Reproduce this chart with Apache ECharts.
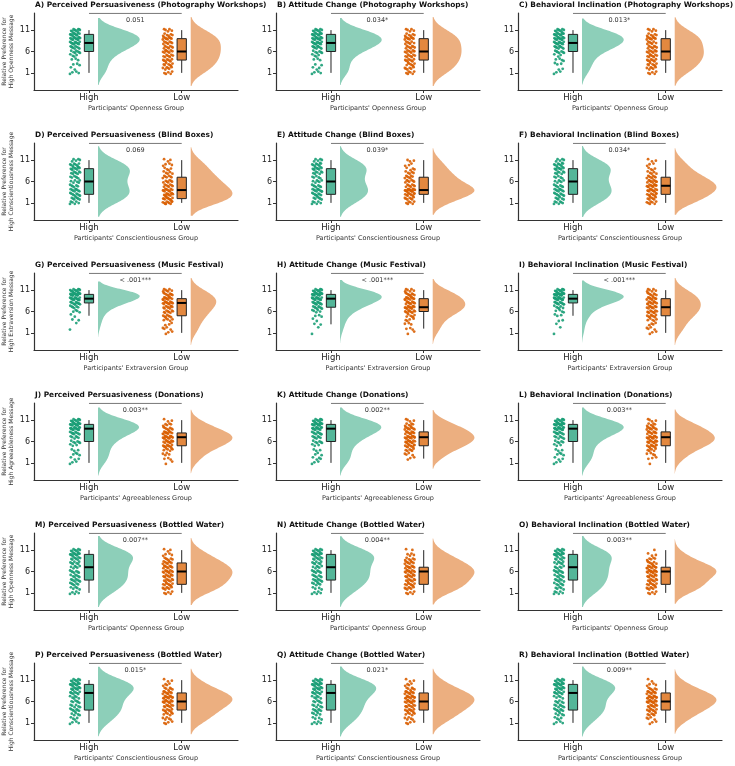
<!DOCTYPE html>
<html>
<head>
<meta charset="utf-8">
<script src="https://cdn.jsdelivr.net/npm/echarts@6/dist/echarts.min.js"></script>
<style>
  html, body { margin: 0; background: #fff; }
  #chart { width: 735px; height: 766px; }
</style>
</head>
<body>
<div id="chart"></div>
<script>
// rating levels on the relative preference scale
var levels = [1, 2, 3, 4, 5, 6, 7, 8, 9, 10, 11];
var yTicks = [1, 6, 11];
var groupNames = ['High', 'Low'];

// participants per level (1..11), high group / low group
var aHigh = [4, 2, 3, 3, 4, 7, 9, 13, 14, 12, 10];
var aLow  = [5, 6, 7, 8, 8, 9, 8, 8, 10, 6, 5];
var bHigh = [4, 3, 2, 3, 4, 6, 10, 13, 15, 12, 9];
var bLow  = [6, 6, 7, 8, 8, 9, 8, 7, 10, 6, 5];
var cHigh = [3, 2, 3, 4, 3, 7, 10, 13, 15, 12, 9];
var cLow  = [5, 6, 7, 8, 9, 9, 8, 7, 10, 6, 5];
var dHigh = [6, 7, 9, 9, 6, 6, 6, 8, 10, 8, 5];
var dLow  = [10, 11, 11, 11, 8, 7, 7, 5, 4, 4, 3];
var eHigh = [6, 6, 9, 10, 7, 6, 5, 7, 10, 9, 5];
var eLow  = [6, 7, 10, 19, 8, 7, 7, 5, 4, 3, 3];
var fHigh = [7, 6, 9, 9, 7, 6, 5, 7, 10, 9, 5];
var fLow  = [7, 7, 9, 12, 12, 10, 8, 5, 4, 3, 3];
var gHigh = [0, 1, 1, 2, 2, 4, 6, 12, 18, 22, 12];
var gLow  = [3, 4, 3, 5, 7, 8, 9, 13, 12, 9, 7];
var hHigh = [1, 1, 2, 2, 3, 5, 8, 12, 16, 19, 11];
var hLow  = [2, 3, 3, 4, 6, 10, 14, 11, 12, 9, 6];
var iHigh = [1, 1, 1, 2, 3, 4, 6, 12, 18, 21, 11];
var iLow  = [3, 4, 4, 5, 8, 10, 11, 10, 11, 8, 6];
var jHigh = [3, 3, 4, 3, 3, 6, 6, 9, 16, 17, 10];
var jLow  = [2, 3, 4, 6, 10, 12, 15, 12, 8, 5, 3];
var kHigh = [3, 4, 3, 3, 3, 6, 7, 9, 15, 17, 10];
var kLow  = [0, 3, 4, 6, 10, 12, 14, 11, 10, 6, 4];
var lHigh = [3, 3, 4, 3, 3, 5, 7, 9, 16, 17, 10];
var lLow  = [1, 3, 4, 6, 10, 12, 14, 10, 10, 6, 4];
var mHigh = [5, 5, 6, 8, 7, 7, 6, 7, 8, 13, 8];
var mLow  = [5, 7, 9, 8, 10, 11, 10, 8, 6, 4, 3];
var nHigh = [5, 4, 6, 8, 7, 8, 6, 7, 8, 13, 8];
var nLow  = [5, 7, 9, 8, 10, 12, 10, 8, 6, 4, 2];
var oHigh = [6, 5, 6, 7, 7, 8, 6, 7, 7, 13, 8];
var oLow  = [5, 7, 9, 8, 10, 14, 12, 7, 5, 3, 1];
var pHigh = [4, 4, 5, 8, 6, 6, 6, 9, 11, 13, 8];
var pLow  = [4, 5, 6, 8, 9, 12, 13, 10, 6, 4, 3];
var qHigh = [5, 4, 5, 7, 6, 6, 6, 9, 11, 13, 8];
var qLow  = [4, 5, 6, 9, 9, 12, 12, 10, 6, 4, 3];
var rHigh = [4, 4, 5, 8, 7, 6, 5, 9, 11, 13, 8];
var rLow  = [3, 4, 6, 9, 10, 13, 13, 10, 6, 4, 2];

var panelTitles = [
  'A) Perceived Persuasiveness (Photography Workshops)', 'B) Attitude Change (Photography Workshops)', 'C) Behavioral Inclination (Photography Workshops)',
  'D) Perceived Persuasiveness (Blind Boxes)', 'E) Attitude Change (Blind Boxes)', 'F) Behavioral Inclination (Blind Boxes)',
  'G) Perceived Persuasiveness (Music Festival)', 'H) Attitude Change (Music Festival)', 'I) Behavioral Inclination (Music Festival)',
  'J) Perceived Persuasiveness (Donations)', 'K) Attitude Change (Donations)', 'L) Behavioral Inclination (Donations)',
  'M) Perceived Persuasiveness (Bottled Water)', 'N) Attitude Change (Bottled Water)', 'O) Behavioral Inclination (Bottled Water)',
  'P) Perceived Persuasiveness (Bottled Water)', 'Q) Attitude Change (Bottled Water)', 'R) Behavioral Inclination (Bottled Water)'
];
var pLabels = [
  '0.051', '0.034*', '0.013*',
  '0.069', '0.039*', '0.034*',
  '< .001***', '< .001***', '< .001***',
  '0.003**', '0.002**', '0.003**',
  '0.007**', '0.004**', '0.003**',
  '0.015*', '0.021*', '0.009**'
];
var rowTraits = ['Openness', 'Conscientiousness', 'Extraversion', 'Agreeableness', 'Openness', 'Conscientiousness'];

var panelData = [
  [aHigh, aLow], [bHigh, bLow], [cHigh, cLow],
  [dHigh, dLow], [eHigh, eLow], [fHigh, fLow],
  [gHigh, gLow], [hHigh, hLow], [iHigh, iLow],
  [jHigh, jLow], [kHigh, kLow], [lHigh, lLow],
  [mHigh, mLow], [nHigh, nLow], [oHigh, oLow],
  [pHigh, pLow], [qHigh, qLow], [rHigh, rLow]
];

// look
var pointColors = ['#1b9e77', '#d95f02'];
var boxColors = ['#54b699', '#e3883f'];
var violinColors = ['#8dcfb9', '#ecaf80'];
var FONT = 'DejaVu Sans';
var left0 = 34, colStep = 242, top0 = 13, rowStep = 130, gw = 204, gh = 77;
var xMin = -0.593, xMax = 1.607, yMin = -3, yMax = 15;

function expand(counts) {
  var vals = [];
  counts.forEach(function (c, k) { for (var i = 0; i < c; i++) vals.push(levels[k]); });
  return vals;
}
function quantile(sorted, q) {
  var pos = (sorted.length - 1) * q, lo = Math.floor(pos), hi = Math.ceil(pos);
  return sorted[lo] + (sorted[hi] - sorted[lo]) * (pos - lo);
}
function boxStats(vals) {
  var q1 = quantile(vals, 0.25), med = quantile(vals, 0.5), q3 = quantile(vals, 0.75);
  var iqr = q3 - q1;
  var lo = vals.filter(function (v) { return v >= q1 - 1.5 * iqr; })[0];
  var inside = vals.filter(function (v) { return v <= q3 + 1.5 * iqr; });
  return [lo, q1, med, q3, inside[inside.length - 1]];
}
function kde(vals) {
  var n = vals.length, mean = vals.reduce(function (a, b) { return a + b; }, 0) / n;
  var sd = Math.sqrt(vals.reduce(function (a, v) { return a + (v - mean) * (v - mean); }, 0) / (n - 1));
  var bw = 1.25 * sd * Math.pow(n, -0.2);
  var y0 = vals[0] - 2 * bw, y1 = vals[n - 1] + 2 * bw, pts = [];
  for (var s = 0; s <= 120; s++) {
    var y = y0 + (y1 - y0) * s / 120, d = 0;
    vals.forEach(function (v) { d += Math.exp(-0.5 * Math.pow((y - v) / bw, 2)); });
    pts.push([y, d / (n * bw * Math.sqrt(2 * Math.PI))]);
  }
  return pts;
}
function frac(v) { return v - Math.floor(v); }

var grids = [], xAxes = [], yAxes = [], series = [], graphics = [];

panelData.forEach(function (pair, p) {
  var row = Math.floor(p / 3), col = p % 3;
  var gl = left0 + col * colStep, gt = top0 + row * rowStep;
  grids.push({ left: gl, top: gt, width: gw, height: gh });
  xAxes.push({
    gridIndex: p, type: 'value', min: xMin, max: xMax,
    name: "Participants' " + rowTraits[row] + ' Group', nameLocation: 'middle', nameGap: 15,
    nameTextStyle: { fontFamily: FONT, fontSize: 6.5, color: '#333' },
    axisLine: { onZero: false, lineStyle: { color: '#333', width: 1.2 } },
    axisTick: { customValues: [0, 1], length: 3, lineStyle: { color: '#333' } },
    axisLabel: { customValues: [0, 1], margin: 3, fontFamily: FONT, fontSize: 8.5, color: '#222',
      formatter: function (v) { return groupNames[Math.round(v)]; } },
    splitLine: { show: false }
  });
  yAxes.push({
    gridIndex: p, type: 'value', min: yMin, max: yMax,
    name: col === 0 ? 'Relative Preference for\nHigh ' + rowTraits[row] + ' Message' : '',
    nameLocation: 'middle', nameGap: 19, nameRotate: 90,
    nameTextStyle: { fontFamily: FONT, fontSize: 6, color: '#333', lineHeight: 7 },
    axisLine: { show: true, onZero: false, lineStyle: { color: '#333', width: 1.2 } },
    axisTick: { show: true, customValues: yTicks, length: 3, lineStyle: { color: '#333' } },
    axisLabel: { customValues: yTicks, margin: 4, fontFamily: FONT, fontSize: 8, color: '#222' },
    splitLine: { show: false }
  });
  graphics.push({
    type: 'text', x: gl + 1, y: gt - 8,
    style: { text: panelTitles[p], font: 'bold 7.4px "' + FONT + '"', fill: '#111', verticalAlign: 'middle', textAlign: 'left' }
  });

  var curves = [], stats = [], peak = 0;
  pair.forEach(function (counts, g) {
    var vals = expand(counts);
    stats.push([g].concat(boxStats(vals)));
    var c = kde(vals);
    c.forEach(function (pt) { peak = Math.max(peak, pt[1]); });
    curves.push(c);
    // jittered strip
    series.push({
      type: 'scatter', xAxisIndex: p, yAxisIndex: p, symbolSize: 2.8, silent: true,
      itemStyle: { color: pointColors[g], opacity: 0.9 },
      data: vals.map(function (v, i) {
        return [g - 0.15 + (frac(i * 0.618034 + 0.31 * g) - 0.5) * 0.11,
                v + (frac(i * 0.754878 + 0.17) - 0.5) * 0.7];
      })
    });
  });

  // half violins
  series.push({
    type: 'custom', xAxisIndex: p, yAxisIndex: p, silent: true,
    data: [[0, 0], [1, 0]],
    renderItem: function (params, api) {
      var g = params.dataIndex, x0 = g + 0.097, sc = 0.45 / peak;
      var pts = curves[g].map(function (pt) { return api.coord([x0 + pt[1] * sc, pt[0]]); });
      var back = curves[g].slice().reverse().map(function (pt) { return api.coord([x0, pt[0]]); });
      return { type: 'polygon', shape: { points: pts.concat(back) }, style: { fill: violinColors[g], stroke: null } };
    }
  });

  // boxes
  series.push({
    type: 'custom', xAxisIndex: p, yAxisIndex: p, silent: true,
    data: stats,
    renderItem: function (params, api) {
      var g = api.value(0), lo = api.value(1), q1 = api.value(2), md = api.value(3), q3 = api.value(4), hi = api.value(5);
      var w = 0.05;
      var a = api.coord([g - w, q3]), b = api.coord([g + w, q1]);
      var top = api.coord([g, hi]), bot = api.coord([g, lo]), m1 = api.coord([g - w, md]), m2 = api.coord([g + w, md]);
      var q3p = api.coord([g, q3]), q1p = api.coord([g, q1]);
      var ln = { stroke: '#222', lineWidth: 1 };
      return { type: 'group', children: [
        { type: 'line', shape: { x1: top[0], y1: top[1], x2: q3p[0], y2: q3p[1] }, style: ln },
        { type: 'line', shape: { x1: q1p[0], y1: q1p[1], x2: bot[0], y2: bot[1] }, style: ln },
        { type: 'rect', shape: { x: a[0], y: a[1], width: b[0] - a[0], height: b[1] - a[1] },
          style: { fill: boxColors[g], stroke: '#222', lineWidth: 1 } },
        { type: 'line', shape: { x1: m1[0], y1: m1[1], x2: m2[0], y2: m2[1] }, style: { stroke: '#000', lineWidth: 2 } }
      ] };
    }
  });

  // significance bracket
  series.push({
    type: 'custom', xAxisIndex: p, yAxisIndex: p, silent: true,
    data: [[0, 14.9]],
    renderItem: function (params, api) {
      var s = api.coord([0, 14.9]), e = api.coord([1, 14.9]), t = api.coord([0.5, 13.4]);
      return { type: 'group', children: [
        { type: 'line', shape: { x1: s[0], y1: s[1], x2: e[0], y2: e[1] }, style: { stroke: '#777', lineWidth: 1 } },
        { type: 'text', x: t[0], y: t[1], style: { text: pLabels[p], font: '6.5px "' + FONT + '"', fill: '#333', textAlign: 'center', verticalAlign: 'middle' } }
      ] };
    }
  });
});

var chart = echarts.init(document.getElementById('chart'));
chart.setOption({
  animation: false,
  grid: grids,
  xAxis: xAxes,
  yAxis: yAxes,
  graphic: graphics,
  series: series
});
</script>
</body>
</html>
